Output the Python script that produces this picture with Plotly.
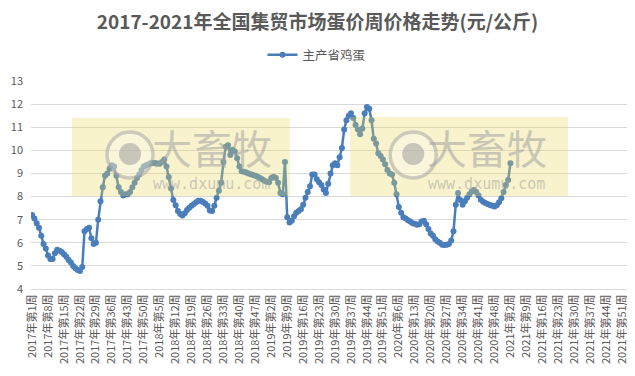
import plotly.graph_objects as go

title_text = "2017-2021年全国集贸市场蛋价周价格走势(元/公斤)"
series_name = "主产省鸡蛋"
years = [2017, 2018, 2019, 2020, 2021]
weeks_per_year = [52, 52, 52, 53, 52]

categories = [f"{y}年第{w}周" for y, n in zip(years, weeks_per_year) for w in range(1, n + 1)]

prices = [
    7.2, 7.05, 6.85, 6.65, 6.3, 5.95, 5.75, 5.45, 5.3, 5.3,
    5.55, 5.7, 5.65, 5.6, 5.5, 5.4, 5.25, 5.15, 5.0, 4.9,
    4.82, 4.78, 4.95, 6.5, 6.6, 6.65, 6.2, 5.95, 6.0, 7.0,
    7.8, 8.4, 8.9, 9.0, 9.2, 9.35, 9.3, 8.9, 8.4, 8.2,
    8.05, 8.1, 8.1, 8.2, 8.4, 8.6, 8.8, 8.95, 9.15, 9.3,
    9.35, 9.4, 9.44, 9.45, 9.45, 9.43, 9.42, 9.5, 9.6, 9.3,
    8.85, 8.35, 7.85, 7.62, 7.38, 7.25, 7.18, 7.28, 7.42, 7.52,
    7.6, 7.68, 7.75, 7.82, 7.82, 7.76, 7.7, 7.6, 7.4, 7.38,
    7.6, 7.95, 8.25, 8.6, 9.5, 10.15, 10.22, 9.8, 10.02, 9.95,
    9.66, 9.3, 9.1, 9.07, 9.04, 9.0, 8.97, 8.93, 8.9, 8.86,
    8.8, 8.75, 8.68, 8.64, 8.62, 8.8, 8.86, 8.8, 8.6, 8.15,
    8.1, 9.5, 7.1, 6.88, 6.95, 7.15, 7.3, 7.38, 7.45, 7.65,
    7.95, 8.2, 8.45, 8.95, 8.95, 8.75, 8.62, 8.5, 8.3, 8.15,
    8.55, 9.0, 9.35, 9.44, 9.35, 9.7, 10.1, 10.9, 11.3, 11.5,
    11.6, 11.4, 11.1, 10.9, 10.7, 10.95, 11.6, 11.88, 11.8, 11.3,
    10.5, 10.3, 9.87, 9.75, 9.6, 9.4, 9.15, 9.0, 8.95, 8.6,
    8.1, 7.55, 7.3, 7.1, 7.05, 6.98, 6.92, 6.85, 6.82, 6.78,
    6.8, 6.92, 6.95, 6.8, 6.6, 6.4, 6.3, 6.15, 6.05, 6.0,
    5.92, 5.9, 5.92, 5.95, 6.1, 6.5, 7.65, 8.15, 7.85, 7.65,
    7.8, 7.95, 8.1, 8.22, 8.28, 8.2, 8.05, 7.86, 7.78, 7.72,
    7.68, 7.64, 7.6, 7.57, 7.62, 7.75, 7.93, 8.2, 8.5, 8.72,
    9.44,
]

y_ticks = [4, 5, 6, 7, 8, 9, 10, 11, 12, 13]
tick_step = 7

font_family = "Noto Sans CJK SC, Microsoft YaHei, sans-serif"
text_color = "#595959"
line_color = "#4A7EBB"

fig = go.Figure()
fig.add_trace(go.Scatter(
    x=categories[:len(prices)],
    y=prices,
    mode="lines+markers",
    name=series_name,
    line=dict(color=line_color, width=2.5),
    marker=dict(color=line_color, size=6, symbol="circle"),
))

# invisible trace to keep the full category list on the axis
fig.add_trace(go.Scatter(x=categories, y=[None] * len(categories), mode="lines",
                         showlegend=False, hoverinfo="skip"))

shapes = []
annotations = []
# watermark panels (decorative, paper coords of the plot area)
wm = [
    # rect x0, x1, y1, circle cx, text cx
    (0.0684, 0.4324, 0.822, 0.1653, 0.302),
    (0.5326, 0.8965, 0.827, 0.6381, 0.761),
]
for x0, x1, y1, cx, tx in wm:
    shapes.append(dict(type="rect", xref="paper", yref="paper", x0=x0, x1=x1,
                       y0=0.447, y1=y1, fillcolor="rgba(232,214,90,0.30)",
                       line=dict(width=0), layer="above"))
    shapes.append(dict(type="circle", xref="paper", yref="paper",
                       x0=cx - 0.0384, x1=cx + 0.0384, y0=0.534, y1=0.755,
                       line=dict(color="rgba(160,160,160,0.5)", width=3.5),
                       fillcolor="rgba(255,255,255,0.30)", layer="above"))
    shapes.append(dict(type="circle", xref="paper", yref="paper",
                       x0=cx - 0.0184, x1=cx + 0.0184, y0=0.596, y1=0.702,
                       line=dict(width=0),
                       fillcolor="rgba(150,150,150,0.5)", layer="above"))
    annotations.append(dict(xref="paper", yref="paper", x=tx, y=0.683,
                            xanchor="center", yanchor="middle",
                            text="大畜牧", showarrow=False,
                            font=dict(family=font_family, size=40,
                                      color="rgba(160,160,160,0.55)")))
    annotations.append(dict(xref="paper", yref="paper", x=tx, y=0.505,
                            xanchor="center", yanchor="middle",
                            text="www.dxumu.com", showarrow=False,
                            font=dict(family="DejaVu Sans Mono", size=15,
                                      color="rgba(160,160,160,0.55)")))

fig.update_layout(
    template="none",
    width=627, height=368,
    margin=dict(l=23, r=5, t=73, b=87, pad=0),
    paper_bgcolor="white", plot_bgcolor="white",
    title=dict(text=f"<b>{title_text}</b>", x=0.4936, xanchor="center",
               y=0.962, yanchor="middle",
               font=dict(family=font_family, size=19, color=text_color)),
    showlegend=True,
    legend=dict(orientation="h", x=0.4766, xanchor="center", y=1.125, yanchor="middle",
                font=dict(family=font_family, size=12.5, color=text_color),
                bgcolor="rgba(0,0,0,0)"),
    font=dict(family=font_family, color=text_color),
    shapes=shapes,
    annotations=annotations,
)

fig.update_xaxes(
    type="category",
    categoryorder="array", categoryarray=categories,
    tickmode="array",
    tickvals=categories[::tick_step],
    ticktext=categories[::tick_step],
    tickangle=-90,
    tickfont=dict(family=font_family, size=11, color=text_color),
    showgrid=False,
    showline=True, linecolor="#D9D9D9", linewidth=1,
    ticks="",
    automargin=False,
    range=[-0.5, len(categories) + 1.5],
)
fig.update_yaxes(
    range=[4, 13],
    tickvals=y_ticks,
    tickfont=dict(family=font_family, size=11, color=text_color),
    showgrid=True, gridcolor="#D9D9D9", gridwidth=1,
    zeroline=False, showline=False,
    ticks="", ticklen=0,
    ticklabelstandoff=7,
    automargin=False,
)

fig.write_html("out.html")
